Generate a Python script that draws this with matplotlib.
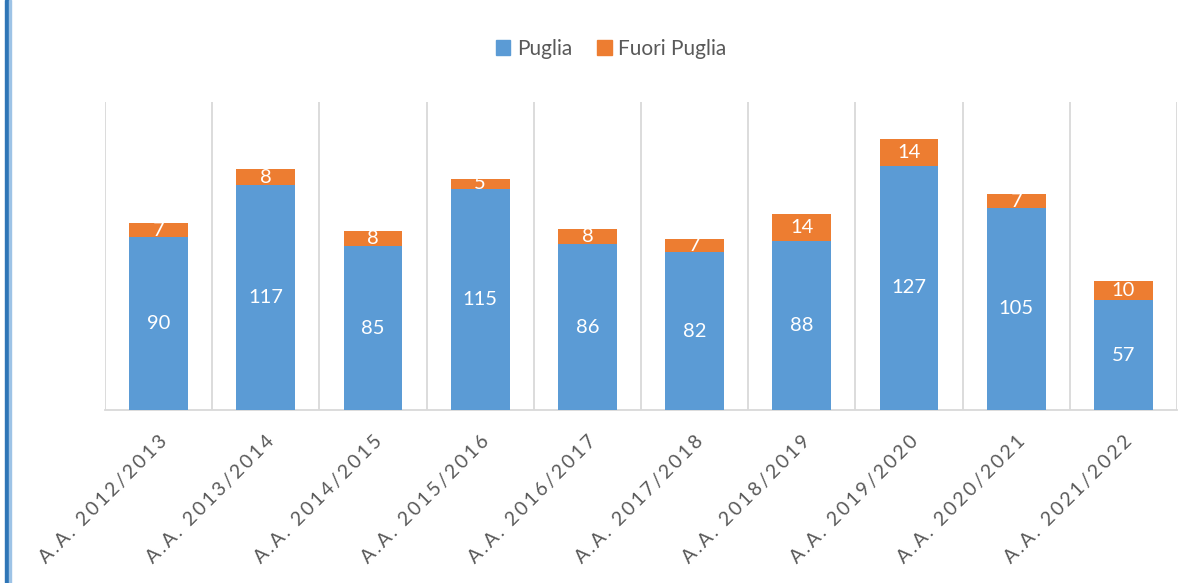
import numpy as np
import matplotlib
matplotlib.use("Agg")
import matplotlib.pyplot as plt
from matplotlib.patches import Rectangle, Patch

years = ["2012/2013", "2013/2014", "2014/2015", "2015/2016", "2016/2017",
         "2017/2018", "2018/2019", "2019/2020", "2020/2021", "2021/2022"]
puglia = [90, 117, 85, 115, 86, 82, 88, 127, 105, 57]
fuori = [7, 8, 8, 5, 8, 7, 14, 14, 7, 10]

BLUE = "#5B9BD5"
ORANGE = "#ED7D31"
GRID = "#D9D9D9"
TEXT = "#595959"

plt.rcParams["font.family"] = ["Lato", "DejaVu Sans"]


def spaced(s):
    # Excel-style wide letter spacing
    return "\u2009".join(s).replace("\u2009 \u2009", "  ")


def main():
    fig = plt.figure(figsize=(11.92, 5.83), dpi=100)
    ax = fig.add_axes([105 / 1192, 173 / 583, 1072 / 1192, 308 / 583])

    x = np.arange(len(years))
    ax.bar(x, puglia, width=0.55, color=BLUE, zorder=3)
    ax.bar(x, fuori, width=0.55, bottom=puglia, color=ORANGE, zorder=3)

    for i in range(len(years)):
        ax.text(x[i], puglia[i] / 2, str(puglia[i]), ha="center", va="center",
                color="white", fontsize=14.5, zorder=4)
        ax.text(x[i], puglia[i] + fuori[i] / 2, str(fuori[i]), ha="center", va="center",
                color="white", fontsize=14.5, zorder=4)

    ax.set_xlim(-0.5, len(years) - 0.5)
    ax.set_ylim(0, 160)
    ax.set_yticks([])
    for b in np.arange(-0.5, len(years), 1.0):
        ax.axvline(b, color=GRID, lw=1.3, zorder=1)
    for s in ["top", "left", "right"]:
        ax.spines[s].set_visible(False)
    ax.spines["bottom"].set_color(GRID)
    ax.spines["bottom"].set_linewidth(1.3)

    ax.set_xticks(x)
    ax.set_xticklabels([spaced("A.A. " + y) for y in years], rotation=45,
                       ha="right", rotation_mode="anchor", color=TEXT, fontsize=14)
    ax.tick_params(axis="x", length=0, pad=16)

    handles = [Patch(color=BLUE, label="Puglia"), Patch(color=ORANGE, label="Fuori Puglia")]
    fig.legend(handles=handles, loc="center", bbox_to_anchor=(611 / 1192, 1 - 49 / 583),
               ncol=2, frameon=False, fontsize=15, labelcolor=TEXT,
               handlelength=0.7, handleheight=0.7, handletextpad=0.3, columnspacing=1.2)

    # blue border on the left edge
    fig.patches.append(Rectangle((5 / 1192, 0), 4 / 1192, 1, transform=fig.transFigure,
                                 color="#2E75B6", zorder=5))
    fig.patches.append(Rectangle((9 / 1192, 0), 1.5 / 1192, 1, transform=fig.transFigure,
                                 color="#9DC3E6", zorder=5))

    fig.savefig("out.png", dpi=100)


if __name__ == "__main__":
    main()
